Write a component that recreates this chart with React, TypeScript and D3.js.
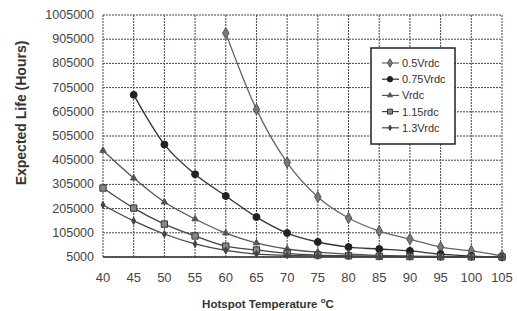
import React, { useEffect, useRef } from 'react';
import * as d3 from 'd3';

const temps = [40, 45, 50, 55, 60, 65, 70, 75, 80, 85, 90, 95, 100, 105];
const yTicks = [5000, 105000, 205000, 305000, 405000, 505000, 605000, 705000, 805000, 905000, 1005000];

// null = no point at that temperature
const v050: (number | null)[] = [null, null, null, null, 930000, 615000, 395000, 253000, 166000, 112000, 79000, 46000, 30000, 10000];
const v075: (number | null)[] = [null, 675000, 470000, 347000, 257000, 170000, 104000, 67000, 46000, 38000, 30000, 17000, 9000, 5000];
const v100: (number | null)[] = [445000, 331000, 232000, 162000, 104000, 63000, 38000, 25000, 17000, 12000, 9000, 7000, 6000, 5000];
const v115: (number | null)[] = [290000, 207000, 141000, 92000, 50000, 34000, 20000, 13000, 10000, 8000, 7000, 6000, 5500, 5000];
const v130: (number | null)[] = [220000, 154000, 100000, 59000, 32000, 17000, 12000, 9000, 7000, 6000, 5500, 5000, 5000, 5000];

const seriesNames = ['0.5Vrdc', '0.75Vrdc', 'Vrdc', '1.15rdc', '1.3Vrdc'];
const seriesValues = [v050, v075, v100, v115, v130];

const FONT = '"Liberation Sans", Arial, sans-serif';

const App: React.FC = () => {
    const svgRef = useRef<SVGSVGElement>(null);

    useEffect(() => {
        if (!svgRef.current) return;
        const svg = d3.select(svgRef.current);
        svg.selectAll('*').remove();

        const left = 103, right = 502, top = 15, bottom = 257;

        const x = d3.scaleLinear().domain([40, 105]).range([left, right]);
        const y = d3.scaleLinear().domain([5000, 1005000]).range([bottom, top]);

        svg.append('rect').attr('width', 517).attr('height', 311).attr('fill', '#fff');

        // grid
        const grid = svg.append('g');
        yTicks.forEach(t => {
            grid.append('line')
                .attr('x1', left).attr('x2', right)
                .attr('y1', y(t)).attr('y2', y(t))
                .attr('stroke', '#3e4356').attr('stroke-width', 1)
                .attr('stroke-dasharray', '2,1');
        });
        temps.forEach(t => {
            grid.append('line')
                .attr('x1', x(t)).attr('x2', x(t))
                .attr('y1', top).attr('y2', bottom)
                .attr('stroke', '#3e4356').attr('stroke-width', 1)
                .attr('stroke-dasharray', '2,1');
        });
        svg.append('line')
            .attr('x1', left).attr('x2', right)
            .attr('y1', bottom).attr('y2', bottom)
            .attr('stroke', '#333').attr('stroke-width', 1.5);

        // tick labels
        yTicks.forEach(t => {
            svg.append('text')
                .attr('x', 94).attr('y', y(t))
                .attr('text-anchor', 'end')
                .attr('dominant-baseline', 'central')
                .attr('font-family', FONT)
                .attr('font-size', '12.5px')
                .attr('fill', '#444')
                .text(t);
        });
        temps.forEach(t => {
            svg.append('text')
                .attr('x', x(t)).attr('y', 277)
                .attr('text-anchor', 'middle')
                .attr('dominant-baseline', 'central')
                .attr('font-family', FONT)
                .attr('font-size', '13px')
                .attr('fill', '#444')
                .text(t);
        });

        // axis titles
        svg.append('text')
            .attr('transform', 'translate(26,113) rotate(-90)')
            .attr('text-anchor', 'middle')
            .attr('font-family', FONT)
            .attr('font-size', '14px')
            .attr('font-weight', 'bold')
            .attr('fill', '#333')
            .text('Expected Life (Hours)');

        const xt = svg.append('text')
            .attr('x', 268).attr('y', 308)
            .attr('text-anchor', 'middle')
            .attr('font-family', FONT)
            .attr('font-size', '11.5px')
            .attr('font-weight', 'bold')
            .attr('fill', '#333');
        xt.append('tspan').text('Hotspot Temperature ');
        xt.append('tspan').attr('font-size', '8px').attr('dy', -5).text('o');
        xt.append('tspan').attr('dy', 5).text('C');

        // markers per series
        const markerStyles = [
            { sym: d3.symbolDiamond, size: 36, fill: '#777', stroke: '#555', line: '#666' },
            { sym: d3.symbolCircle, size: 38, fill: '#222', stroke: '#222', line: '#333' },
            { sym: d3.symbolTriangle, size: 18, fill: '#555', stroke: '#555', line: '#555' },
            { sym: d3.symbolSquare, size: 40, fill: '#888', stroke: '#333', line: '#444' },
            { sym: d3.symbolDiamond, size: 14, fill: '#444', stroke: '#444', line: '#444' },
        ];

        const line = d3.line<[number, number | null]>()
            .defined(d => d[1] !== null)
            .x(d => x(d[0]))
            .y(d => y(d[1] as number))
            .curve(d3.curveMonotoneX);

        seriesValues.forEach((vals, i) => {
            const st = markerStyles[i];
            const pts = temps.map((t, j) => [t, vals[j]] as [number, number | null]);
            svg.append('path')
                .attr('d', line(pts) as string)
                .attr('fill', 'none')
                .attr('stroke', st.line)
                .attr('stroke-width', 1.3);
            pts.filter(p => p[1] !== null).forEach(p => {
                svg.append('path')
                    .attr('d', d3.symbol().type(st.sym).size(st.size)() as string)
                    .attr('transform', `translate(${x(p[0])},${y(p[1] as number)})`)
                    .attr('fill', st.fill)
                    .attr('stroke', st.stroke)
                    .attr('stroke-width', 1);
            });
        });

        // legend
        const lg = svg.append('g');
        lg.append('rect')
            .attr('x', 371).attr('y', 48)
            .attr('width', 84).attr('height', 96)
            .attr('fill', '#fff')
            .attr('stroke', '#222').attr('stroke-width', 1.5);
        seriesNames.forEach((name, i) => {
            const st = markerStyles[i];
            const ly = 63 + i * 16.2;
            lg.append('line')
                .attr('x1', 382).attr('x2', 399)
                .attr('y1', ly).attr('y2', ly)
                .attr('stroke', st.line).attr('stroke-width', 1.2);
            lg.append('path')
                .attr('d', d3.symbol().type(st.sym).size(st.size * 0.6)() as string)
                .attr('transform', `translate(390,${ly})`)
                .attr('fill', st.fill)
                .attr('stroke', st.stroke);
            lg.append('text')
                .attr('x', 402).attr('y', ly)
                .attr('dominant-baseline', 'central')
                .attr('font-family', FONT)
                .attr('font-size', '11px')
                .attr('fill', '#333')
                .text(name);
        });
    }, []);

    return (
        <svg ref={svgRef} width="517" height="311" style={{ position: 'absolute', left: 0, top: 0 }}></svg>
    );
};

export default App;
